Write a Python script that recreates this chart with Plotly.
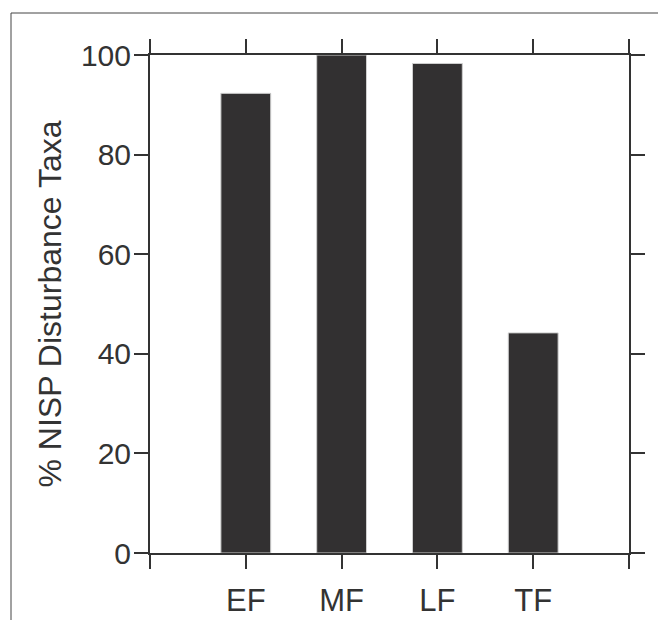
import plotly.graph_objects as go

categories = ["EF", "MF", "LF", "TF"]
values = [92.3, 100, 98.3, 44.2]
x_positions = [0, 1, 2, 3]
x_tickvals = [-1, 0, 1, 2, 3, 4]
x_ticktext = ["", "EF", "MF", "LF", "TF", ""]
y_tickvals = [0, 20, 40, 60, 80, 100]

# the page body adds an 8px margin; keep the figure inside the window
OFF = 8
W, H = 666 - 2 * OFF, 628 - 2 * OFF
L, T = 150 - OFF, 55 - OFF
pw, ph = 479, 498
R, B = W - L - pw, H - T - ph

fig = go.Figure()
fig.add_trace(go.Bar(
    x=x_positions, y=values, width=0.52,
    marker=dict(color="#323031", line=dict(color="#cfcfcf", width=1)),
    hoverinfo="skip", customdata=categories,
))

axis_common = dict(
    showline=True, linecolor="#333333", linewidth=2,
    ticks="outside", ticklen=14, tickwidth=2, tickcolor="#333333",
    mirror="ticks", showgrid=False, zeroline=False, automargin=False,
)

fig.update_layout(
    width=W, height=H,
    margin=dict(l=L, r=R, t=T, b=B, pad=0, autoexpand=False),
    paper_bgcolor="white", plot_bgcolor="white",
    showlegend=False,
    xaxis=dict(range=[-1, 4], tickmode="array", tickvals=x_tickvals, ticktext=x_ticktext,
               ticklabelstandoff=5,
               tickfont=dict(family="Liberation Sans, Arial, sans-serif", size=31, color="#333333"),
               **axis_common),
    yaxis=dict(range=[0, 100], tickmode="array", tickvals=y_tickvals,
               ticklabelstandoff=-3,
               tickfont=dict(family="Liberation Sans, Arial, sans-serif", size=30, color="#333333"),
               title=dict(text="% NISP Disturbance Taxa", standoff=10,
                          font=dict(family="Liberation Sans, Arial, sans-serif", size=32, color="#333333")),
               **axis_common),
    font=dict(family="Liberation Sans, Arial, sans-serif", color="#333333"),
)

# outer frame (left and top edges visible)
fx0 = (11 - OFF - L) / pw
fx1 = (W + 20 - L) / pw
fy1 = (T + ph - (13 - OFF)) / ph
fy0 = (T + ph - (H + 20)) / ph
fig.add_shape(type="rect", xref="paper", yref="paper", x0=fx0, x1=fx1, y0=fy0, y1=fy1,
              line=dict(color="#444444", width=1), fillcolor="rgba(0,0,0,0)", layer="below")

fig.write_html("out.html")
